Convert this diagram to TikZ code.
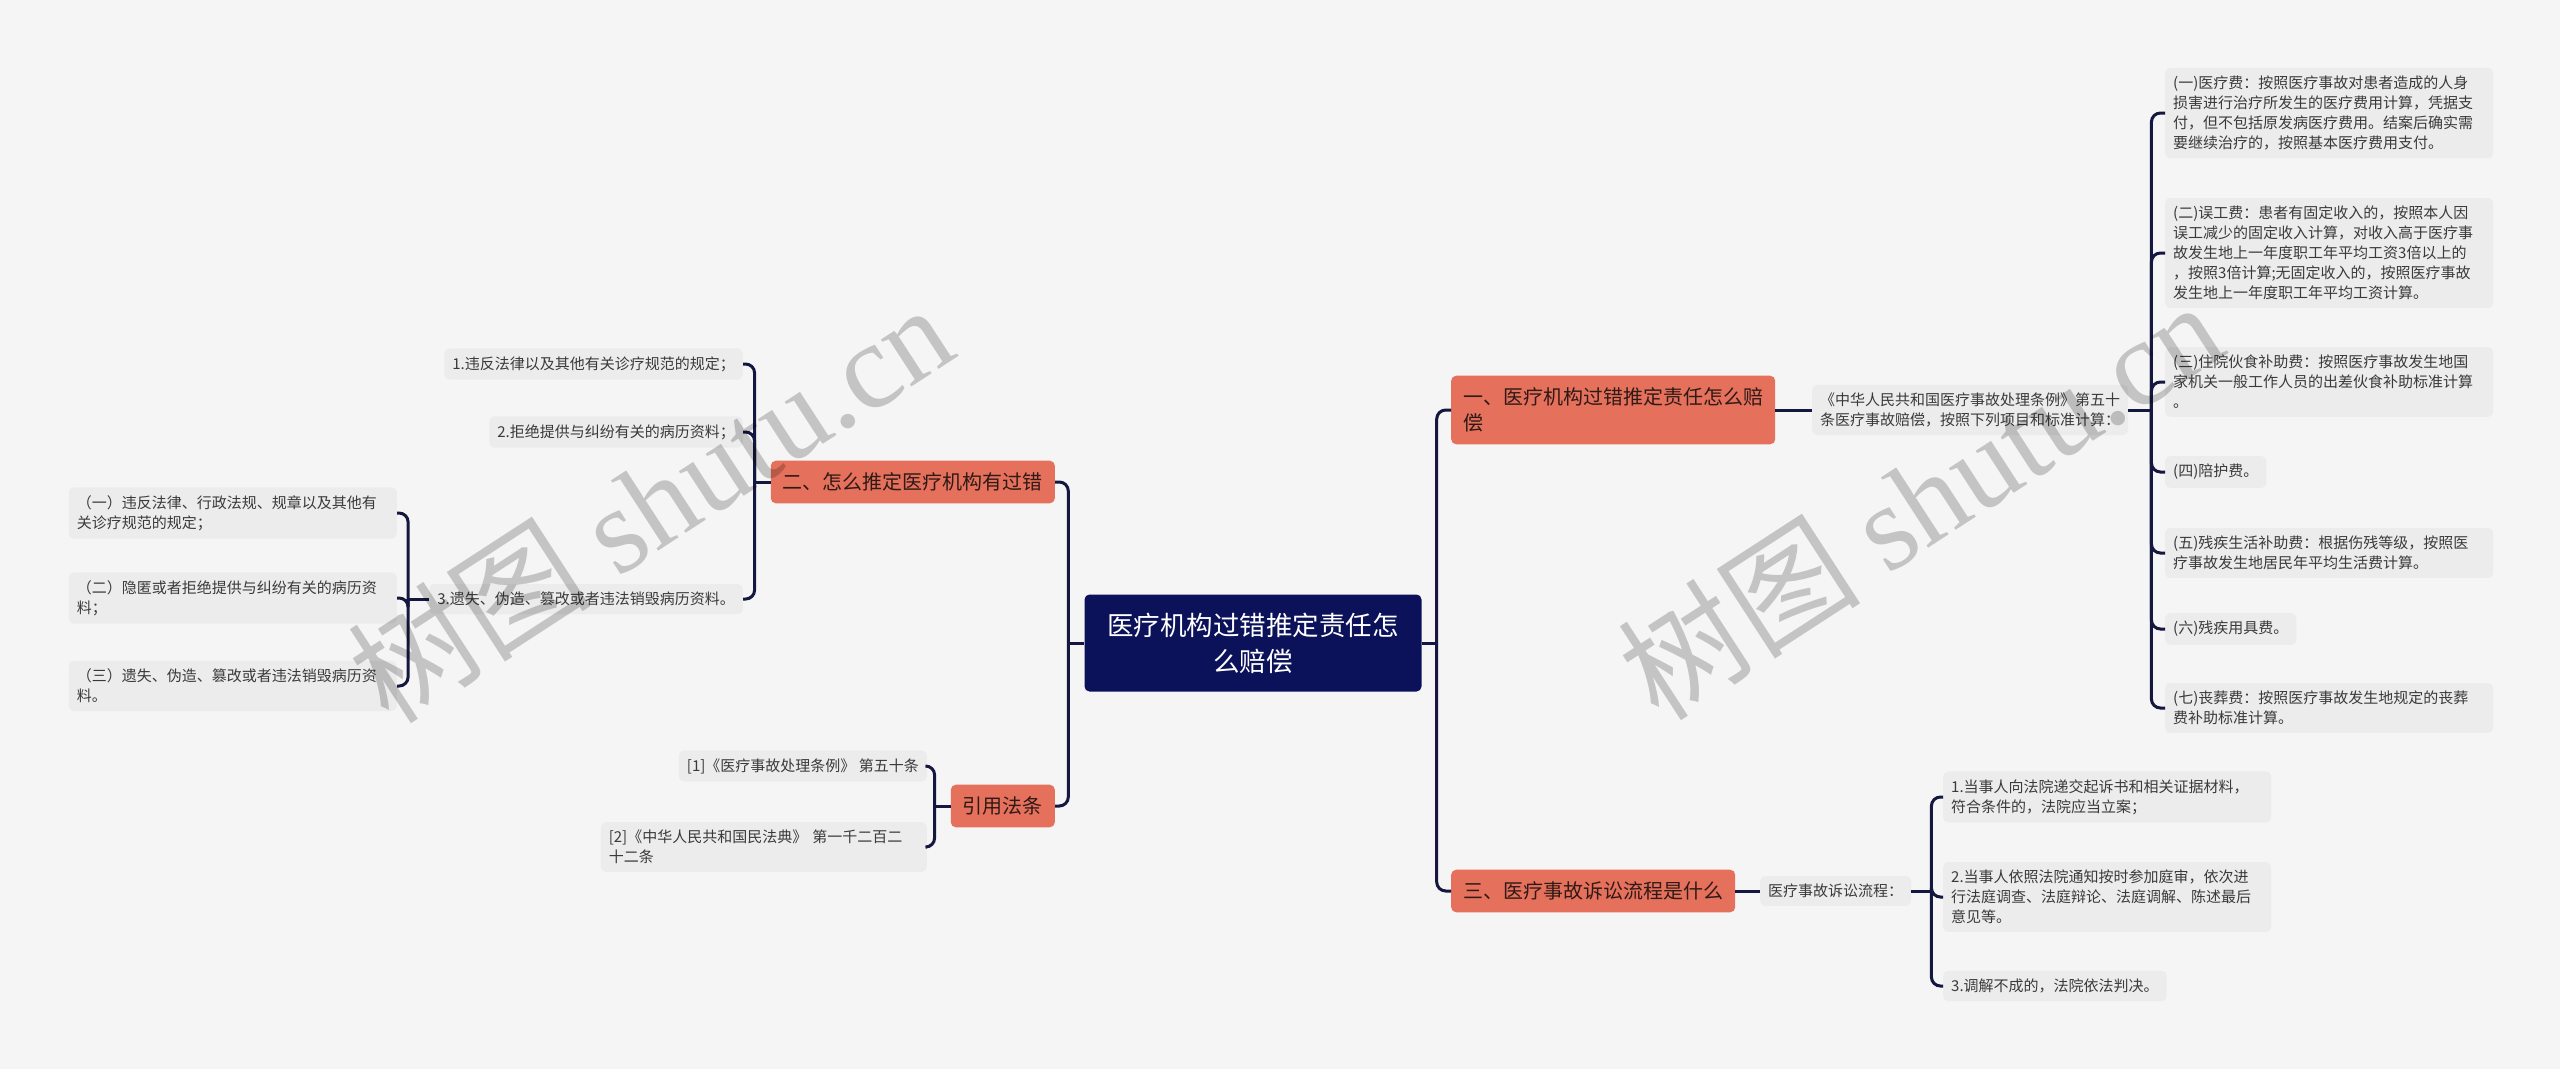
\documentclass[tikz,border=0pt]{standalone}
\usepackage{fontspec}
\setmainfont{Noto Sans CJK SC}
\newfontfamily\wmlatin{Liberation Serif}

\definecolor{bgcol}{HTML}{F5F5F5}
\definecolor{rootcol}{HTML}{0C1259}
\definecolor{branchcol}{HTML}{E5705B}
\definecolor{branchtext}{HTML}{2E1A16}
\definecolor{leafcol}{HTML}{ECECEC}
\definecolor{leaftext}{HTML}{3A3A3A}
\definecolor{linkcol}{HTML}{14173F}

\tikzset{
  root/.style={fill=rootcol, text=white, rounded corners=5pt, align=center,
    minimum width=337pt, minimum height=97pt, inner sep=6pt,
    font=\fontsize{26.5}{36}\selectfont},
  branch/.style={fill=branchcol, text=branchtext, rounded corners=5pt, align=left,
    inner xsep=12pt, inner ysep=12pt, font=\fontsize{20}{26}\selectfont},
  leaf/.style={fill=leafcol, text=leaftext, rounded corners=5pt, align=left,
    inner xsep=8pt, inner ysep=8pt, font=\fontsize{15}{20}\selectfont},
  wide/.style={text width=312pt},
  link/.style={draw=linkcol, line width=3pt, rounded corners=9pt},
  wmark/.style={text=black, text opacity=0.2, font=\fontsize{122}{122}\selectfont}
}

\begin{document}
\begin{tikzpicture}[x=1pt,y=-1pt]
  % background
  \fill[bgcol] (0,0) rectangle (2560,1069);
  \useasboundingbox (0,0) rectangle (2560,1069);

  % central topic
  \node[root] (main) at (1253,643) {医疗机构过错推定责任怎\\么赔偿};

  % right: compensation
  \node[branch, anchor=west] (pay) at (1451,410) {一、医疗机构过错推定责任怎么赔\\偿};
  \node[leaf, anchor=west] (rule) at (1812,410) {《中华人民共和国医疗事故处理条例》第五十\\条医疗事故赔偿，按照下列项目和标准计算：};
  \node[leaf, wide, anchor=west] (fee1) at (2165,113) {(一)医疗费：按照医疗事故对患者造成的人身\\损害进行治疗所发生的医疗费用计算，凭据支\\付，但不包括原发病医疗费用。结案后确实需\\要继续治疗的，按照基本医疗费用支付。};
  \node[leaf, wide, anchor=west] (fee2) at (2165,253) {(二)误工费：患者有固定收入的，按照本人因\\误工减少的固定收入计算，对收入高于医疗事\\故发生地上一年度职工年平均工资3倍以上的\\，按照3倍计算;无固定收入的，按照医疗事故\\发生地上一年度职工年平均工资计算。};
  \node[leaf, wide, anchor=west] (fee3) at (2165,382) {(三)住院伙食补助费：按照医疗事故发生地国\\家机关一般工作人员的出差伙食补助标准计算\\。};
  \node[leaf, anchor=west] (fee4) at (2165,472) {(四)陪护费。};
  \node[leaf, wide, anchor=west] (fee5) at (2165,553) {(五)残疾生活补助费：根据伤残等级，按照医\\疗事故发生地居民年平均生活费计算。};
  \node[leaf, anchor=west] (fee6) at (2165,629) {(六)残疾用具费。};
  \node[leaf, wide, anchor=west] (fee7) at (2165,708) {(七)丧葬费：按照医疗事故发生地规定的丧葬\\费补助标准计算。};

  % right: lawsuit
  \node[branch, anchor=west] (suit) at (1451,891) {三、医疗事故诉讼流程是什么};
  \node[leaf, anchor=west] (flow) at (1760,891) {医疗事故诉讼流程：};
  \node[leaf, wide, anchor=west] (step1) at (1943,797) {1.当事人向法院递交起诉书和相关证据材料，\\符合条件的，法院应当立案；};
  \node[leaf, wide, anchor=west] (step2) at (1943,897) {2.当事人依照法院通知按时参加庭审，依次进\\行法庭调查、法庭辩论、法庭调解、陈述最后\\意见等。};
  \node[leaf, anchor=west] (step3) at (1943,986) {3.调解不成的，法院依法判决。};

  % left: fault
  \node[branch, anchor=east] (how) at (1055,482) {二、怎么推定医疗机构有过错};
  \node[leaf, anchor=east] (how1) at (743,364) {1.违反法律以及其他有关诊疗规范的规定；};
  \node[leaf, anchor=east] (how2) at (743,432) {2.拒绝提供与纠纷有关的病历资料；};
  \node[leaf, anchor=east] (how3) at (743,599) {3.遗失、伪造、篡改或者违法销毁病历资料。};
  \node[leaf, wide, anchor=east] (case1) at (397,513) {（一）违反法律、行政法规、规章以及其他有\\关诊疗规范的规定；};
  \node[leaf, wide, anchor=east] (case2) at (397,598) {（二）隐匿或者拒绝提供与纠纷有关的病历资\\料；};
  \node[leaf, wide, anchor=east] (case3) at (397,686) {（三）遗失、伪造、篡改或者违法销毁病历资\\料。};

  % left: cited law
  \node[branch, anchor=east] (cite) at (1055,806) {引用法条};
  \node[leaf, anchor=east] (cite1) at (927,766) {[1]《医疗事故处理条例》 第五十条};
  \node[leaf, text width=310pt, anchor=east] (cite2) at (927,847) {[2]《中华人民共和国民法典》 第一千二百二\\十二条};

  % junctions
  \coordinate (rj) at ([xshift=15pt]main.east);
  \coordinate (lj) at ([xshift=-16pt]main.west);
  \coordinate (feej) at ([xshift=23pt]rule.east);
  \coordinate (stepj) at ([xshift=20pt]flow.east);
  \coordinate (howj) at ([xshift=-16pt]how.west);
  \coordinate (casej) at ([xshift=-21pt]how3.west);
  \coordinate (citej) at ([xshift=-16pt]cite.west);

  % connectors
  \draw[link] (main.east) -- (rj);
  \draw[link] (rj) |- (pay.west);
  \draw[link] (rj) |- (suit.west);
  \draw[link] (pay.east) -- (rule.west);
  \draw[link] (rule.east) -- (feej);
  \foreach \n in {fee1,fee2,fee3,fee4,fee5,fee6,fee7}
    \draw[link] (feej) |- (\n.west);
  \draw[link] (suit.east) -- (flow.west);
  \draw[link] (flow.east) -- (stepj);
  \foreach \n in {step1,step2,step3}
    \draw[link] (stepj) |- (\n.west);

  \draw[link] (main.west) -- (lj);
  \draw[link] (lj) |- (how.east);
  \draw[link] (lj) |- (cite.east);
  \draw[link] (how.west) -- (howj);
  \foreach \n in {how1,how2,how3}
    \draw[link] (howj) |- (\n.east);
  \draw[link] (how3.west) -- (casej);
  \foreach \n in {case1,case2,case3}
    \draw[link] (casej) |- (\n.east);
  \draw[link] (cite.west) -- (citej);
  \foreach \n in {cite1,cite2}
    \draw[link] (citej) |- (\n.east);

  % watermark
  \node[wmark, rotate=33] (wm1) at (650,502) {树图 {\wmlatin shutu.cn}};
  \node[wmark, rotate=33] (wm2) at (1920,499) {树图 {\wmlatin shutu.cn}};
\end{tikzpicture}
\end{document}
